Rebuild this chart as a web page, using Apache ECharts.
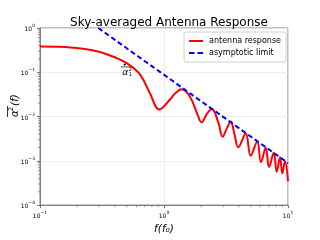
<!DOCTYPE html>
<html>
<head>
<meta charset="utf-8">
<script src="https://cdn.jsdelivr.net/npm/echarts@6/dist/echarts.min.js"></script>
<style>html,body{margin:0;padding:0;background:#fff;}#c{width:320px;height:240px;}</style>
</head>
<body>
<div id="c"></div>
<script>
// Data
const freq = [0.1, 0.145, 0.222, 0.305, 0.39, 0.5, 0.64, 0.771, 0.917, 1.117, 1.227, 1.39, 1.62, 1.84, 2.01, 2.21, 2.43, 2.74, 2.97, 3.21, 3.45, 3.7, 3.97, 4.56, 5.0, 5.65, 6.05, 6.61, 7.03, 7.67, 8.11, 8.62, 9.0, 9.46, 10];
const response = [0.384, 0.378, 0.339, 0.288, 0.224, 0.161, 0.0896, 0.0331, 0.0145, 0.0242, 0.0331, 0.0412, 0.0281, 0.0122, 0.0074, 0.0114, 0.0149, 0.0074, 0.0035, 0.0054, 0.0077, 0.0040, 0.00203, 0.00416, 0.0013, 0.00274, 0.00093, 0.00197, 0.000727, 0.00153, 0.000566, 0.0012, 0.00052, 0.00098, 0.000344];
const asymFreq = [0.295, 10];
const asymValue = [1, 0.00089];
const xMinorTicks = [0.2, 0.3, 0.4, 0.5, 0.6, 0.7, 0.8, 0.9, 2, 3, 4, 5, 6, 7, 8, 9];
const yMinorTicks = [];
[1e-4, 1e-3, 1e-2, 1e-1].forEach(d => { for (let k = 2; k <= 9; k++) yMinorTicks.push(+(d * k).toPrecision(3)); });
const annotPoint = [0.5, 0.161];

const X_MIN = 0.1, X_MAX = 10, Y_MIN = 1e-4, Y_MAX = 1;

function powLabel(v) {
  const e = Math.round(Math.log10(v));
  const s = e < 0 ? '\u2212' + (-e) : '' + e;
  return '{b|10}{s|' + s + '}';
}
const richTick = {
  b: { fontSize: 6, fontFamily: 'DejaVu Sans', color: '#000', verticalAlign: 'bottom', lineHeight: 9 },
  s: { fontSize: 4.5, fontFamily: 'DejaVu Sans', color: '#000', verticalAlign: 'top', lineHeight: 5 }
};

const chart = echarts.init(document.getElementById('c'), null, { renderer: 'canvas' });
const option = {
  animation: false,
  backgroundColor: '#fff',
  title: {
    text: 'Sky-averaged Antenna Response',
    left: 164, top: 12, textAlign: 'center',
    textStyle: { fontSize: 12, fontWeight: 'normal', color: '#000', fontFamily: 'DejaVu Sans' }
  },
  legend: {
    orient: 'vertical', right: 34, top: 32,
    data: [
      { name: 'antenna response', icon: 'path://M0,0h14v2h-14z', itemStyle: { color: '#ff0000' } },
      { name: 'asymptotic limit', icon: 'path://M0,0h5.5v2h-5.5z M8.5,0h5.5v2h-5.5z', itemStyle: { color: '#0000ff' } }
    ],
    backgroundColor: 'rgba(255,255,255,0.9)',
    borderColor: '#d0d0d0', borderWidth: 1, borderRadius: 2,
    padding: [5, 5, 5, 5], itemGap: 4, itemWidth: 14, itemHeight: 2,
    textStyle: { fontSize: 8, color: '#000', fontFamily: 'DejaVu Sans', padding: [0, 0, 0, 1] }
  },
  grid: { left: 40, right: 32, top: 28, bottom: 27, show: true, borderColor: '#808080', borderWidth: 1, backgroundColor: 'transparent' },
  xAxis: {
    type: 'log', logBase: 10, min: X_MIN, max: X_MAX,
    name: 'f(f\u2080)', nameLocation: 'middle', nameGap: 13,
    nameTextStyle: { fontSize: 10.5, fontStyle: 'italic', color: '#000', fontFamily: 'DejaVu Sans' },
    axisLine: { show: true, lineStyle: { color: '#808080', width: 1 } },
    axisTick: { show: true, inside: false, length: 3, lineStyle: { color: '#555', width: 0.8 } },
    axisLabel: { margin: 5, formatter: powLabel, rich: richTick },
    splitLine: { show: true, lineStyle: { color: '#e8e8e8', width: 0.8 } }
  },
  yAxis: {
    type: 'log', logBase: 10, min: Y_MIN, max: Y_MAX,
    axisLine: { show: true, lineStyle: { color: '#808080', width: 1 } },
    axisTick: { show: true, inside: false, length: 3, lineStyle: { color: '#555', width: 0.8 } },
    axisLabel: { margin: 5, formatter: powLabel, rich: richTick },
    splitLine: { show: true, lineStyle: { color: '#e8e8e8', width: 0.8 } }
  },
  series: [
    {
      name: 'antenna response', type: 'line', showSymbol: false, symbol: 'none',
      smooth: 0.4, clip: true,
      lineStyle: { color: '#ff0000', width: 2 }, itemStyle: { color: '#ff0000' },
      data: freq.map((f, i) => [f, response[i]]), z: 3
    },
    {
      name: 'asymptotic limit', type: 'line', showSymbol: false, symbol: 'none', clip: true,
      lineStyle: { color: '#0000ff', width: 2, type: [5, 3] }, itemStyle: { color: '#0000ff' },
      data: asymFreq.map((f, i) => [f, asymValue[i]]), z: 4
    },
    {
      type: 'custom', silent: true, clip: false,
      data: xMinorTicks.map(v => [v, Y_MIN]),
      renderItem: (params, api) => {
        const p = api.coord([api.value(0), api.value(1)]);
        return { type: 'line', shape: { x1: p[0], y1: p[1], x2: p[0], y2: p[1] + 2 }, style: { stroke: '#555', lineWidth: 0.6 } };
      }
    },
    {
      type: 'custom', silent: true, clip: false,
      data: yMinorTicks.map(v => [X_MIN, v]),
      renderItem: (params, api) => {
        const p = api.coord([api.value(0), api.value(1)]);
        return { type: 'line', shape: { x1: p[0], y1: p[1], x2: p[0] - 2, y2: p[1] }, style: { stroke: '#555', lineWidth: 0.6 } };
      }
    }
  ]
};
chart.setOption(option);

// Y axis label (rotated) and annotation
const ap = chart.convertToPixel({ gridIndex: 0 }, annotPoint);
chart.setOption({
  graphic: [
    {
      type: 'group', x: 15, y: 110, rotation: Math.PI / 2,
      children: [
        { type: 'text', x: 0, y: 0, style: { text: 'α', fontSize: 10.5, fontStyle: 'italic', fontFamily: 'DejaVu Sans', fill: '#000', align: 'right', verticalAlign: 'middle' } },
        { type: 'text', x: -1, y: -4, style: { text: '2', fontSize: 6.5, fontFamily: 'DejaVu Sans', fill: '#000', align: 'left', verticalAlign: 'middle' } },
        { type: 'text', x: 4, y: 0, style: { text: '(f)', fontSize: 10.5, fontStyle: 'italic', fontFamily: 'DejaVu Sans', fill: '#000', align: 'left', verticalAlign: 'middle' } },
        { type: 'line', shape: { x1: -7, y1: -7.5, x2: 4, y2: -7.5 }, style: { stroke: '#000', lineWidth: 0.8 } }
      ]
    },
    {
      type: 'group', x: ap[0], y: ap[1],
      children: [
        { type: 'polygon', shape: { points: [[0, 0], [-3.5, 1.2], [-1.8, 2.8]] }, style: { fill: '#000' } },
        { type: 'line', shape: { x1: -6, y1: 3.8, x2: 5, y2: 3.8 }, style: { stroke: '#000', lineWidth: 0.7 } },
        { type: 'text', x: -1.5, y: 9.5, style: { text: 'α', fontSize: 9, fontStyle: 'italic', fontFamily: 'DejaVu Sans', fill: '#000', align: 'center', verticalAlign: 'middle' } },
        { type: 'text', x: 2.2, y: 7, style: { text: '2', fontSize: 5, fontFamily: 'DejaVu Sans', fill: '#000', align: 'left', verticalAlign: 'middle' } },
        { type: 'text', x: 2.2, y: 12, style: { text: '1', fontSize: 5, fontFamily: 'DejaVu Sans', fill: '#000', align: 'left', verticalAlign: 'middle' } }
      ]
    }
  ]
});
</script>
</body>
</html>
